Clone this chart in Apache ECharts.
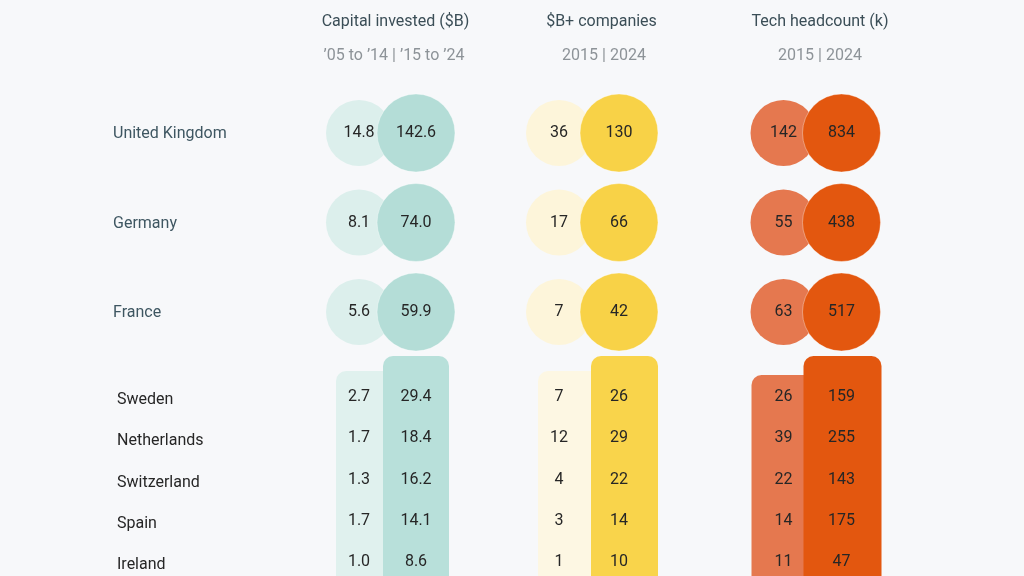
<!DOCTYPE html>
<html>
<head>
<meta charset="utf-8">
<script src="https://cdn.jsdelivr.net/npm/echarts@6/dist/echarts.min.js"></script>
<style>
html,body{margin:0;padding:0;background:#f7f8fa;}
#chart{width:1024px;height:576px;}
</style>
</head>
<body>
<div id="chart"></div>
<script>
// ---------- data ----------
const periods = ['early', 'late'];
const topCountries = ['United Kingdom', 'Germany', 'France'];
const bottomCountries = ['Sweden', 'Netherlands', 'Switzerland', 'Spain', 'Ireland'];

const metricTitles = ['Capital invested ($B)', '$B+ companies', 'Tech headcount (k)'];
const metricSubtitles = ['\u201905 to \u201914 | \u201915 to \u201924', '2015 | 2024', '2015 | 2024'];

const capitalTopEarly = [14.8, 8.1, 5.6];
const capitalTopLate = [142.6, 74.0, 59.9];
const capitalBottomEarly = [2.7, 1.7, 1.3, 1.7, 1.0];
const capitalBottomLate = [29.4, 18.4, 16.2, 14.1, 8.6];

const companiesTopEarly = [36, 17, 7];
const companiesTopLate = [130, 66, 42];
const companiesBottomEarly = [7, 12, 4, 3, 1];
const companiesBottomLate = [26, 29, 22, 14, 10];

const headcountTopEarly = [142, 55, 63];
const headcountTopLate = [834, 438, 517];
const headcountBottomEarly = [26, 39, 22, 14, 11];
const headcountBottomLate = [159, 255, 143, 175, 47];

const valueDecimals = [1, 0, 0];

const metricData = [
  { top: [capitalTopEarly, capitalTopLate], bottom: [capitalBottomEarly, capitalBottomLate] },
  { top: [companiesTopEarly, companiesTopLate], bottom: [companiesBottomEarly, companiesBottomLate] },
  { top: [headcountTopEarly, headcountTopLate], bottom: [headcountBottomEarly, headcountBottomLate] }
];

// ---------- layout / style ----------
const FONT = 'Roboto, "Noto Sans", sans-serif';
const layout = [
  { left: 330.5, width: 114, titleX: 395.5, subX: 394,
    light: '#dcefec', dark: '#b4ddd7', colLight: '#e0f1ee', colDark: '#b8e0da',
    lightLeft: 23, lightExt: 5.4, darkLeft: 33, darkRight: 33, darkExt: 20.4 },
  { left: 529, width: 120, titleX: 601.5, subX: 604,
    light: '#fdf5da', dark: '#f8d247', colLight: '#fdf7e3', colDark: '#f9d44b',
    lightLeft: 21, lightExt: 5.4, darkLeft: 28, darkRight: 39, darkExt: 20.4 },
  { left: 754.5, width: 116, titleX: 820, subX: 820,
    light: '#e5784f', dark: '#e3570f', colLight: '#e5784f', colDark: '#e3570f',
    lightLeft: 32, lightExt: 1.4, darkLeft: 38, darkRight: 40, darkExt: 20.4 }
];
const topGrid = { top: 88.25, height: 268.5, boundaryGap: true };
const bottomGrid = { top: 397, height: 165, boundaryGap: false };

const grids = [], xAxes = [], yAxes = [], series = [], graphics = [];

function fmt(v, d) { return v.toFixed(d); }

layout.forEach((L, m) => {
  graphics.push({ type: 'text', x: L.titleX, y: 22, style: {
    text: metricTitles[m], textAlign: 'center', textVerticalAlign: 'middle',
    font: '16px ' + FONT, fill: '#3b4e57' } });
  graphics.push({ type: 'text', x: L.subX, y: 56, style: {
    text: metricSubtitles[m], textAlign: 'center', textVerticalAlign: 'middle',
    font: '16px ' + FONT, fill: '#8d9398' } });

  [['top', topCountries, topGrid], ['bottom', bottomCountries, bottomGrid]].forEach(([sec, countries, G]) => {
    const gi = grids.length;
    grids.push({ left: L.left, width: L.width, top: G.top, height: G.height, containLabel: false });
    xAxes.push({ type: 'category', gridIndex: gi, data: periods, show: false });
    const showNames = m === 0;
    yAxes.push({
      type: 'category', gridIndex: gi, data: countries, inverse: true,
      boundaryGap: G.boundaryGap,
      axisLine: { show: false }, axisTick: { show: false }, splitLine: { show: false },
      axisLabel: showNames ? {
        show: true, align: 'left',
        margin: L.left - (sec === 'top' ? 113 : 117),
        fontSize: 16, fontFamily: FONT,
        color: sec === 'top' ? '#3e5661' : '#262626',
        verticalAlign: 'top',
        padding: sec === 'top' ? [-7, 0, 0, 0] : [-5, 0, 0, 0]
      } : { show: false }
    });
    const vals = metricData[m][sec];
    const d = valueDecimals[m];
    const labelStyle = {
      show: true, position: 'inside', fontSize: 16, fontFamily: FONT, color: '#262626',
      formatter: p => fmt(p.value[2], d)
    };

    if (sec === 'top') {
      [0, 1].forEach(k => {
        series.push({
          type: 'scatter', xAxisIndex: gi, yAxisIndex: gi,
          symbol: 'circle', symbolSize: k === 0 ? 66 : 78,
          itemStyle: { color: k === 0 ? L.light : L.dark, opacity: 1,
            borderColor: 'rgba(255,255,255,0.35)', borderWidth: k === 1 ? 1 : 0 },
          label: labelStyle,
          emphasis: { disabled: true },
          z: 2 + k,
          data: vals[k].map((v, r) => [k, r, v])
        });
      });
    } else {
      [0, 1].forEach(k => {
        series.push({
          type: 'custom', xAxisIndex: gi, yAxisIndex: gi, z: 1 + k,
          encode: { x: 0, y: 1 },
          data: [[k, 0]],
          clip: false,
          renderItem: (params, api) => {
            const c0 = api.coord([api.value(0), 0]);
            const cN = api.coord([api.value(0), countries.length - 1]);
            const band = api.size([0, 1])[1];
            const ext = k === 0 ? L.lightExt : L.darkExt;
            const y0 = c0[1] - band / 2 - ext;
            const y1 = cN[1] + band / 2 + 30;
            let x0, x1;
            if (k === 0) {
              x0 = c0[0] - L.lightLeft;
              x1 = api.coord([1, 0])[0];
            } else {
              x0 = c0[0] - L.darkLeft;
              x1 = c0[0] + L.darkRight;
            }
            return { type: 'rect', shape: { x: x0, y: y0, width: x1 - x0, height: y1 - y0, r: [10, 10, 0, 0] },
              style: { fill: k === 0 ? L.colLight : L.colDark } };
          }
        });
        series.push({
          type: 'scatter', xAxisIndex: gi, yAxisIndex: gi, z: 5,
          symbol: 'circle', symbolSize: 1,
          itemStyle: { color: k === 0 ? L.colLight : L.colDark, opacity: 1 },
          label: labelStyle, emphasis: { disabled: true },
          data: vals[k].map((v, r) => [k, r, v])
        });
      });
    }
  });
});

const chart = echarts.init(document.getElementById('chart'), null, { renderer: 'canvas' });
chart.setOption({
  backgroundColor: '#f7f8fa',
  animation: false,
  textStyle: { fontFamily: FONT },
  grid: grids, xAxis: xAxes, yAxis: yAxes, series: series,
  graphic: graphics,
  tooltip: { show: false }
});
</script>
</body>
</html>
